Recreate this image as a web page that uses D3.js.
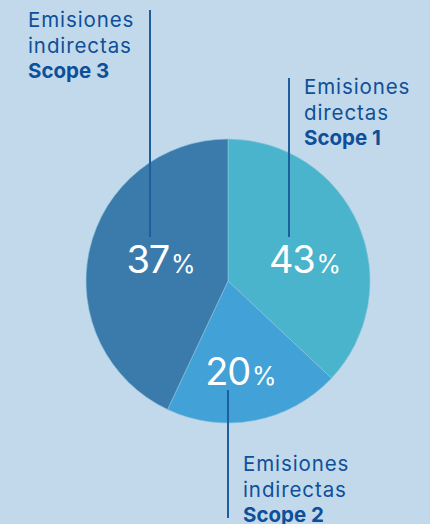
<!DOCTYPE html>
<html>
<head>
<meta charset="utf-8">
<script src="https://cdn.jsdelivr.net/npm/d3@7"></script>
<style>
  html, body { margin: 0; padding: 0; background: #c2d9eb; }
  svg { display: block; font-family: Inter, Roboto, "Noto Sans", sans-serif; }
</style>
</head>
<body>
<div id="wrap"></div>
<script>
// 数据 (slice sizes as drawn, labels as printed)
const scopes = ["Scope 1", "Scope 2", "Scope 3"];
const kinds = ["directas", "indirectas", "indirectas"];
const values = [37, 20, 43];
const labels = ["43", "20", "37"];
const colors = ["#49b4cb", "#42a1d6", "#3b7bab"];

const WIDTH = 430;
const HEIGHT = 524;
const CX = 228, CY = 281, R = 142;

let svg = d3.select('#wrap')
  .append('svg')
  .attr('width', WIDTH)
  .attr('height', HEIGHT)

let g = svg.append('g').attr('transform', 'translate(' + CX + ',' + CY + ')')

let pie = d3.pie().sort(null).value(d => d)
let arcs = pie(values)
let arc = d3.arc().innerRadius(0).outerRadius(R)

g.selectAll('path')
  .data(arcs)
  .enter()
  .append('path')
  .attr('d', arc)
  .attr('fill', (d, i) => colors[i])
  .attr('stroke', '#8cc6dc')
  .attr('stroke-width', 0.6)

// percent labels (offsets from centre, tuned to the picture)
const labelPos = [[77, -8], [13, 104], [-67, -8]];
let pct = g.selectAll('.pct')
  .data(labels)
  .enter()
  .append('text')
  .classed('pct', true)
  .attr('x', (d, i) => labelPos[i][0])
  .attr('y', (d, i) => labelPos[i][1])
  .attr('text-anchor', 'middle')
  .attr('fill', '#ffffff')
pct.append('tspan').attr('font-size', 38).attr('letter-spacing', -1.2).text(d => d)
pct.append('tspan').attr('font-size', 25).attr('dx', 2).text('%')

// leader lines + captions
const lines = [
  {x: 61, y1: -203, y2: -44},
  {x: 0, y1: 109, y2: 237},
  {x: -78, y1: -271, y2: -44}
];
const captions = [
  {x: 76, y: -187},
  {x: 15, y: 190},
  {x: -200, y: -254}
];

g.selectAll('.lead')
  .data(lines)
  .enter()
  .append('line')
  .classed('lead', true)
  .attr('x1', d => d.x).attr('x2', d => d.x)
  .attr('y1', d => d.y1).attr('y2', d => d.y2)
  .attr('stroke', '#1d5e9c')
  .attr('stroke-width', 2)

let cap = g.selectAll('.cap')
  .data(captions)
  .enter()
  .append('text')
  .classed('cap', true)
  .attr('fill', '#0e4f99')
  .attr('font-size', 20.5)
cap.append('tspan').attr('x', d => d.x).attr('y', d => d.y).attr('letter-spacing', 0.9).text('Emisiones')
cap.append('tspan').attr('x', d => d.x).attr('dy', 25.5).attr('letter-spacing', 0.9).text((d, i) => kinds[i])
cap.append('tspan').attr('x', d => d.x).attr('dy', 25).attr('font-weight', 700).text((d, i) => scopes[i])
</script>
</body>
</html>
